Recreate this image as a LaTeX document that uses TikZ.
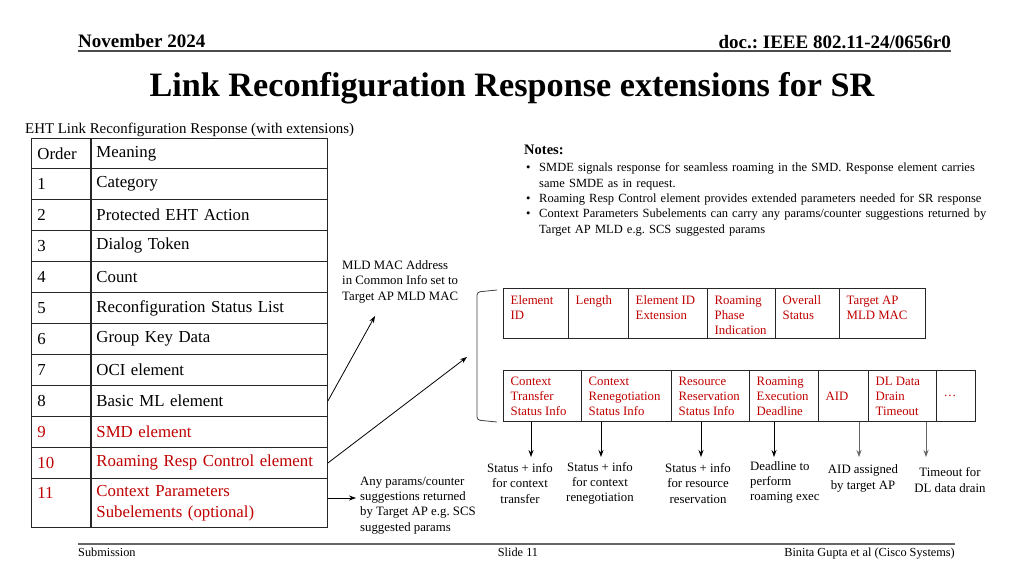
\documentclass[tikz,border=0pt]{standalone}
\usepackage{fontspec}
\setmainfont{Liberation Serif}
\frenchspacing
\usetikzlibrary{arrows.meta,positioning}
\definecolor{srred}{HTML}{C00000}
\tikzstyle{cell}=[draw=black!85, line width=0.9pt, anchor=north west, inner xsep=6pt, inner ysep=0pt, align=left, font=\fontsize{16.8}{21}\selectfont]
\tikzstyle{field}=[draw=black!85, line width=0.9pt, anchor=north west, inner sep=0pt]
\tikzstyle{fieldtext}=[inner xsep=7.5pt, inner ysep=7.5pt, align=left, text=srred, font=\fontsize{12.8}{15}\selectfont]
\tikzstyle{small}=[inner sep=0pt, font=\fontsize{12.8}{15.3}\selectfont]
\tikzstyle{edge}=[draw, line width=0.8pt, -{Stealth[length=7pt,width=5pt]}]
\newcommand{\noteitem}[1]{\hangindent=15pt\hangafter=1\noindent\hspace*{2pt}\makebox[13pt][l]{\textbullet}#1\par}

\begin{document}
\begin{tikzpicture}[x=1pt, y=-1pt]
    \useasboundingbox (0,0) rectangle (1024,576);
    % header and title
    \node[anchor=base west, inner sep=0pt, font=\fontsize{19}{22}\bfseries] (date) at (78,47) {November 2024};
    \node[anchor=base east, inner sep=0pt, font=\fontsize{19}{22}\bfseries] (doc) at (951,48) {doc.: IEEE 802.11-24/0656r0};
    \draw[line width=2pt, black!70] (78,51) -- (951,51);
    \node[anchor=base, inner sep=0pt, font=\fontsize{34.2}{40}\bfseries] (title) at (512,96) {Link Reconfiguration Response extensions for SR};
    \node[anchor=base west, inner sep=0pt, font=\fontsize{14.9}{17}\selectfont] (caption) at (25,133) {EHT Link Reconfiguration Response (with extensions)};
    % the table
    \foreach \n/\top/\h/\ord/\mean/\col in {0/138/30/Order/Meaning/black,
        1/168/31/1/Category/black, 2/199/31/2/Protected EHT Action/black,
        3/230/31/3/Dialog Token/black, 4/261/31/4/Count/black,
        5/292/31/5/Reconfiguration Status List/black, 6/323/31/6/Group Key Data/black,
        7/354/31/7/OCI element/black, 8/385/31/8/Basic ML element/black,
        9/416/31/9/SMD element/srred, 10/447/31/10/Roaming Resp Control element/srred}
    {
        \node[cell, text width=48pt, minimum height=\h, text=\col] (o\n) at (31,\top) {\ord};
        \node[cell, text width=225pt, minimum height=\h, text=\col] (m\n) at (90,\top) {\mean};
    }
    \node[cell, text width=48pt, minimum height=49, text=srred] (o11) at (31,478) {11\\\mbox{}};
    \node[cell, text width=225pt, minimum height=49, text=srred] (m11) at (90,478) {Context Parameters\\Subelements (optional)};
    % notes
    \node[anchor=north west, inner sep=0pt, text width=480pt, font=\fontsize{12.5}{15.3}\selectfont] (notes) at (524,145) {%
        {\fontsize{14.5}{17}\bfseries Notes:}\par\vspace{2pt}
        \noteitem{SMDE signals response for seamless roaming in the SMD. Response element carries\newline same SMDE as in request.}
        \noteitem{Roaming Resp Control element provides extended parameters needed for SR response}
        \noteitem{Context Parameters Subelements can carry any params/counter suggestions returned by\newline Target AP MLD e.g. SCS suggested params}};
    % annotations on the left
    \node[small, anchor=north west, align=left] (mldnote) at (342,260.5) {MLD MAC Address\\in Common Info set to\\Target AP MLD MAC};
    \node[small, anchor=north west, align=left] (anynote) at (360,476.5) {Any params/counter\\suggestions returned\\by Target AP e.g. SCS\\suggested params};
    \coordinate (mldtip) at (375,316);
    \coordinate (brktip) at (467,357);
    \coordinate (anytip) at (356,498);
    \path[edge] (m8.east) -- (mldtip);
    \path[edge] (m10.east) -- (brktip);
    \path[edge] (m11.east |- anytip) -- (anytip);
    % bracket
    \draw[line width=0.8pt, black!75, rounded corners=3pt] (497,290) -- (477,292) -- (477,420) -- (497,422);
    % top row of fields
    \foreach \x/\w/\name/\txt in {503/65/eid/{Element\\ID}, 568/60/len/{Length},
        628/79/eidx/{Element ID\\Extension}, 707/68/rpi/{Roaming\\Phase\\Indication},
        775/64/ovs/{Overall\\Status}, 839/86/tmac/{Target AP\\MLD MAC}}
    {
        \node[field, minimum width=\w, minimum height=50] (\name) at (\x,288) {};
        \node[fieldtext, anchor=north west] (\name t) at (\name.north west) {\txt};
    }
    % bottom row of fields
    \foreach \x/\w/\name/\txt in {503/78/cts/{Context\\Transfer\\Status Info},
        581/90/crs/{Context\\Renegotiation\\Status Info}, 671/78/rrs/{Resource\\Reservation\\Status Info},
        749/69/red/{Roaming\\Execution\\Deadline}, 818/50/aid/{AID},
        868/68/ddt/{DL Data\\Drain\\Timeout}, 936/39/more/{\dots}}
    {
        \node[field, minimum width=\w, minimum height=51] (\name) at (\x,370) {};
        \node[fieldtext, anchor=west] (\name t) at (\name.west) {\txt};
    }
    % explanations below
    \node[small, align=center] (l1) at (520,483.5) {Status + info\\for context\\transfer};
    \node[small, align=center] (l2) at (600,483.5) {Status + info\\for context\\renegotiation};
    \node[small, align=center] (l3) at (698,483.5) {Status + info\\for resource\\reservation};
    \node[small, align=left, anchor=west] (l4) at (750,482.5) {Deadline to\\perform\\roaming exec};
    \node[small, align=center] (l5) at (863,478.5) {AID assigned\\by target AP};
    \node[small, align=center] (l6) at (950,480) {Timeout for\\DL data drain};
    \foreach \fld/\tip/\x/\col in {cts/a1/531/black, crs/a2/601/black, rrs/a3/701/black,
        red/a4/774/black, aid/a5/859/black!60, ddt/a6/926/black!60}
    {
        \coordinate (\tip) at (\x,457);
        \path[edge, draw=\col, fill=\col] (\fld.south -| \tip) -- (\tip);
    }
    % footer
    \draw[line width=1.5pt, black!60] (78,544) -- (955,544);
    \node[anchor=base west, inner sep=0pt, font=\fontsize{12.3}{14}\selectfont] (sub) at (78,556) {Submission};
    \node[anchor=base, inner sep=0pt, font=\fontsize{12.3}{14}\selectfont] (slide) at (518,556) {Slide 11};
    \node[anchor=base east, inner sep=0pt, font=\fontsize{12.3}{14}\selectfont] (auth) at (955,556) {Binita Gupta et al (Cisco Systems)};
\end{tikzpicture}
\end{document}
